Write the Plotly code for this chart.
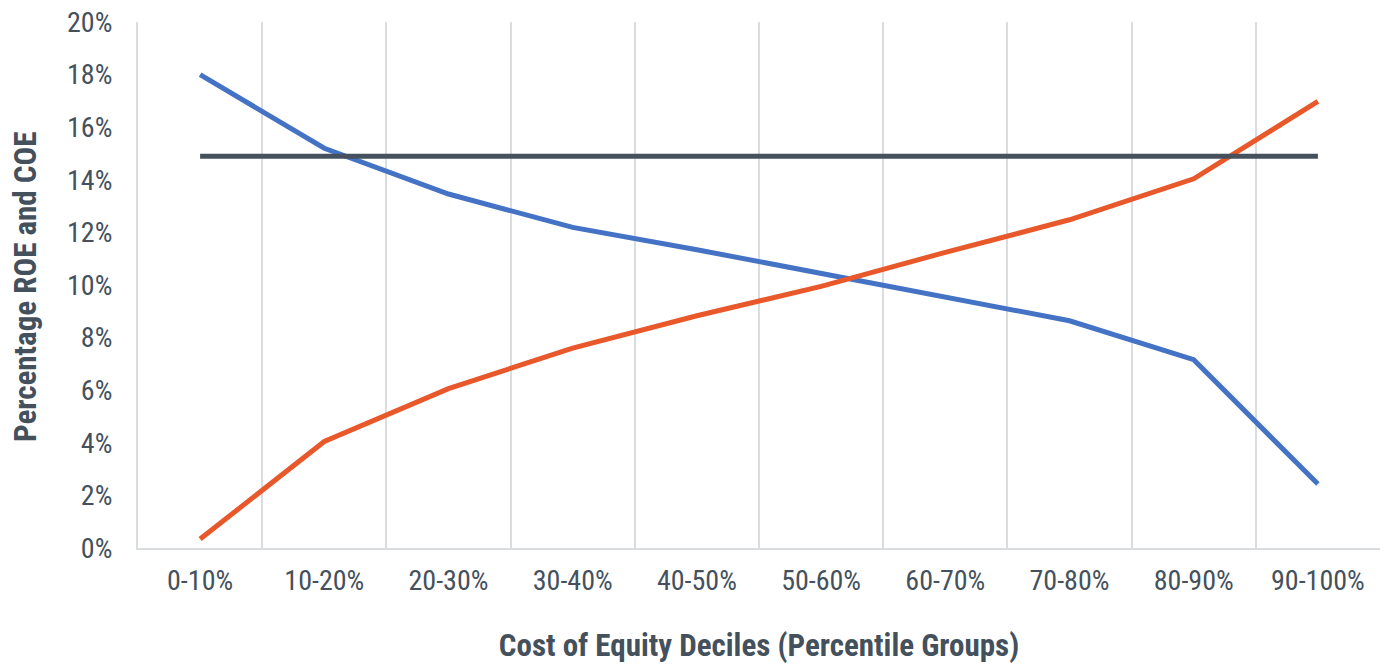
import plotly.graph_objects as go

# Cost-of-equity deciles (percentile groups)
deciles = ["0-10%", "10-20%", "20-30%", "30-40%", "40-50%",
           "50-60%", "60-70%", "70-80%", "80-90%", "90-100%"]

# Return on equity by decile (%)
roe = [18.0, 15.2, 13.46, 12.19, 11.34, 10.45, 9.55, 8.64, 7.16, 2.43]
# Cost of equity by decile (%)
coe = [0.34, 4.05, 6.06, 7.6, 8.83, 9.95, 11.24, 12.48, 14.04, 16.98]
# Flat reference level (%)
benchmark = [14.9] * len(deciles)

y_ticks = [0, 2, 4, 6, 8, 10, 12, 14, 16, 18, 20]
y_tick_labels = [f"{v}%" for v in y_ticks]

text_color = "#44515d"
grid_color = "#d9dde0"
font_family = "Liberation Sans Narrow, Roboto Condensed, Roboto, Arial, sans-serif"

fig = go.Figure()
fig.add_trace(go.Scatter(x=deciles, y=roe, mode="lines", name="ROE",
                         line=dict(color="#4472c4", width=5)))
fig.add_trace(go.Scatter(x=deciles, y=coe, mode="lines", name="COE",
                         line=dict(color="#e8582a", width=5)))
fig.add_trace(go.Scatter(x=deciles, y=benchmark, mode="lines", name="Benchmark",
                         line=dict(color="#45525e", width=5)))

fig.update_layout(
    width=1385, height=664,
    margin=dict(l=138, r=5, t=22, b=116),
    paper_bgcolor="white", plot_bgcolor="white",
    showlegend=False,
    font=dict(family=font_family, color=text_color, size=28),
    xaxis=dict(
        type="category",
        tickson="boundaries",
        showgrid=True, gridcolor=grid_color, gridwidth=2,
        showline=True, linecolor=grid_color, linewidth=2,
        ticks="outside", ticklen=28, tickcolor="rgba(0,0,0,0)",
        ticklabelstandoff=6,
        tickfont=dict(size=28, color=text_color),
        title=dict(text="<b>Cost of Equity Deciles (Percentile Groups)</b>",
                   font=dict(size=31, color=text_color), standoff=40),
        range=[-0.5, 9.5],
        fixedrange=True,
    ),
    yaxis=dict(
        range=[0, 20],
        tickvals=y_ticks,
        ticktext=y_tick_labels,
        showgrid=False, zeroline=False,
        showline=True, linecolor=grid_color, linewidth=2,
        ticks="outside", ticklen=18, tickcolor="rgba(0,0,0,0)",
        tickfont=dict(size=28, color=text_color),
        fixedrange=True,
    ),
    annotations=[dict(
        text="<b>Percentage ROE and COE</b>",
        textangle=-90,
        xref="paper", yref="paper", x=0, y=0.5,
        xanchor="center", yanchor="middle", xshift=-113, yshift=-2,
        showarrow=False,
        font=dict(size=31, color=text_color, family=font_family),
    )],
)

fig.write_html("out.html")
